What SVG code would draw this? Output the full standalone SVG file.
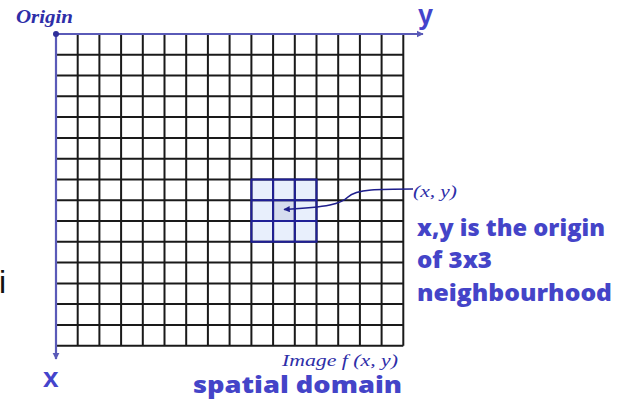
<svg xmlns="http://www.w3.org/2000/svg" width="625" height="404" viewBox="0 0 625 404">
  <defs>
    <marker id="axisHead" viewBox="0 0 10 10" refX="9" refY="5" markerWidth="3.2" markerHeight="3.2" orient="auto" markerUnits="strokeWidth">
      <path d="M0,0 L10,5 L0,10 z" fill="#5a5ab8"/>
    </marker>
    <marker id="ptrHead" viewBox="0 0 10 10" refX="9" refY="5" markerWidth="4" markerHeight="4" orient="auto" markerUnits="strokeWidth">
      <path d="M0,0 L10,5 L0,10 z" fill="#1e1e8c"/>
    </marker>
  </defs>
  <style>
    .grid { stroke: #1a1a1a; stroke-width: 2; fill: none; }
    .axis { stroke: #5a5ab8; stroke-width: 2.2; fill: none; }
    .nb { stroke: #1f1f96; stroke-width: 2; fill: none; }
    .serif { font-family: "Liberation Serif", "DejaVu Serif", serif; font-style: italic; fill: #2e2ea8; }
    .bsans { font-family: "Open Sans", "DejaVu Sans", sans-serif; font-weight: 800; fill: #4444c8; }
    .axlbl { font-family: "Liberation Sans", Arial, sans-serif; font-weight: bold; fill: #4444cc; }
  </style>
  <rect width="625" height="404" fill="#ffffff"/>

  <g id="neighbourhood">
    <rect x="251.4" y="179.5" width="65.1" height="62.3" fill="#e8effc"/>
    <rect x="273.1" y="200.2" width="21.7" height="20.8" fill="#d6dcef"/>
  </g>

  <g id="grid">
    <path class="grid" d="M77.7,34V345.7 M99.4,34V345.7 M121.1,34V345.7 M142.8,34V345.7 M164.5,34V345.7 M186.2,34V345.7 M207.9,34V345.7 M229.6,34V345.7 M251.4,34V345.7 M273.1,34V345.7 M294.8,34V345.7 M316.5,34V345.7 M338.2,34V345.7 M359.9,34V345.7 M381.6,34V345.7 M403.3,34V345.7
      M56,54.8H403.3 M56,75.6H403.3 M56,96.3H403.3 M56,117.1H403.3 M56,137.9H403.3 M56,158.7H403.3 M56,179.5H403.3 M56,200.2H403.3 M56,221H403.3 M56,241.8H403.3 M56,262.6H403.3 M56,283.4H403.3 M56,304.1H403.3 M56,324.9H403.3 M56,345.7H403.3"/>
  </g>

  <g id="neighbourhood-border">
    <path class="nb" d="M251.4,179.5H316.5V241.8H251.4Z M273.1,179.5V241.8 M294.8,179.5V241.8 M251.4,200.2H316.5 M251.4,221H316.5"/>
  </g>

  <g id="axes">
    <line class="axis" x1="56" y1="34" x2="423" y2="34" marker-end="url(#axisHead)"/>
    <line class="axis" x1="56" y1="34" x2="56" y2="359" marker-end="url(#axisHead)"/>
    <circle cx="56" cy="34" r="3" fill="#2e2e9a"/>
  </g>

  <g id="connectors">
    <path d="M413,189 C380,189 356,189 348,197 C341,204 328,207 284,209.5" stroke="#1e1e8c" stroke-width="1.6" fill="none" marker-end="url(#ptrHead)"/>
  </g>

  <g id="labels">
    <text class="serif" x="16" y="23" font-size="19" font-weight="bold" textLength="57" lengthAdjust="spacingAndGlyphs">Origin</text>
    <text class="axlbl" x="418" y="24" font-size="27">y</text>
    <text class="axlbl" x="43" y="387" font-size="28">x</text>
    <text x="-1" y="293" font-family="Liberation Sans, Arial, sans-serif" font-size="32" fill="#111111">i</text>
    <text class="serif" x="413" y="197" font-size="16" textLength="44" lengthAdjust="spacingAndGlyphs">(x, y)</text>
    <text class="serif" x="282" y="366" font-size="16" textLength="116" lengthAdjust="spacingAndGlyphs">Image f (x, y)</text>
    <text class="bsans" x="417" y="236" font-size="22" textLength="188" lengthAdjust="spacingAndGlyphs">x,y is the origin</text>
    <text class="bsans" x="417" y="268" font-size="22" textLength="75" lengthAdjust="spacingAndGlyphs">of 3x3</text>
    <text class="bsans" x="417" y="301" font-size="22" textLength="195" lengthAdjust="spacingAndGlyphs">neighbourhood</text>
    <text class="bsans" x="193" y="393" font-size="23" textLength="209" lengthAdjust="spacingAndGlyphs">spatial domain</text>
  </g>
</svg>
